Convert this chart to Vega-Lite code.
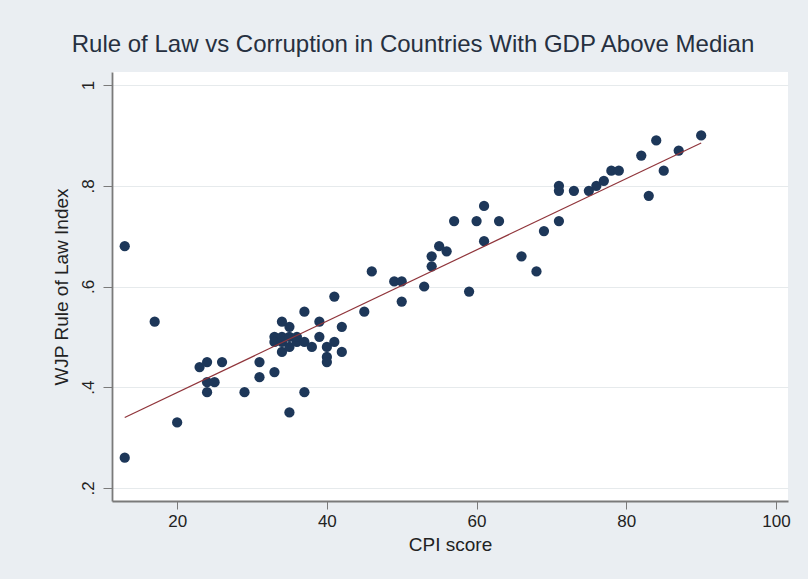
{
  "$schema": "https://vega.github.io/schema/vega-lite/v6.json",
  "autosize": {"type": "none"},
  "padding": {"left": 112, "top": 72, "right": 20, "bottom": 78},
  "width": 676,
  "height": 429,
  "background": "#eaeef2",
  "config": {
    "font": "Liberation Sans",
    "view": {"fill": "white", "stroke": null}
  },
  "title": {
    "text": "Rule of Law vs Corruption in Countries With GDP Above Median",
    "fontSize": 24,
    "fontWeight": "normal",
    "color": "#263040",
    "anchor": "middle",
    "dx": -37,
    "offset": 15
  },
  "data": {
    "values": [
      {"cpi": 13, "rol": 0.68}, {"cpi": 13, "rol": 0.26}, {"cpi": 17, "rol": 0.53}, {"cpi": 20, "rol": 0.33},
      {"cpi": 23, "rol": 0.44}, {"cpi": 24, "rol": 0.45}, {"cpi": 26, "rol": 0.45}, {"cpi": 24, "rol": 0.41},
      {"cpi": 25, "rol": 0.41}, {"cpi": 24, "rol": 0.39}, {"cpi": 29, "rol": 0.39}, {"cpi": 31, "rol": 0.45},
      {"cpi": 31, "rol": 0.42}, {"cpi": 33, "rol": 0.43}, {"cpi": 35, "rol": 0.35}, {"cpi": 34, "rol": 0.53},
      {"cpi": 35, "rol": 0.52}, {"cpi": 33, "rol": 0.50}, {"cpi": 33, "rol": 0.49}, {"cpi": 34, "rol": 0.50},
      {"cpi": 34, "rol": 0.49}, {"cpi": 34, "rol": 0.47}, {"cpi": 35, "rol": 0.50}, {"cpi": 35, "rol": 0.48},
      {"cpi": 36, "rol": 0.49}, {"cpi": 36, "rol": 0.50}, {"cpi": 37, "rol": 0.49}, {"cpi": 38, "rol": 0.48},
      {"cpi": 37, "rol": 0.55}, {"cpi": 37, "rol": 0.39}, {"cpi": 39, "rol": 0.53}, {"cpi": 39, "rol": 0.50},
      {"cpi": 40, "rol": 0.48}, {"cpi": 40, "rol": 0.46}, {"cpi": 40, "rol": 0.45}, {"cpi": 41, "rol": 0.49},
      {"cpi": 41, "rol": 0.58}, {"cpi": 42, "rol": 0.52}, {"cpi": 42, "rol": 0.47}, {"cpi": 45, "rol": 0.55},
      {"cpi": 46, "rol": 0.63}, {"cpi": 49, "rol": 0.61}, {"cpi": 50, "rol": 0.61}, {"cpi": 50, "rol": 0.57},
      {"cpi": 53, "rol": 0.60}, {"cpi": 54, "rol": 0.66}, {"cpi": 54, "rol": 0.64}, {"cpi": 55, "rol": 0.68},
      {"cpi": 56, "rol": 0.67}, {"cpi": 57, "rol": 0.73}, {"cpi": 59, "rol": 0.59}, {"cpi": 60, "rol": 0.73},
      {"cpi": 61, "rol": 0.76}, {"cpi": 61, "rol": 0.69}, {"cpi": 63, "rol": 0.73}, {"cpi": 66, "rol": 0.66},
      {"cpi": 68, "rol": 0.63}, {"cpi": 69, "rol": 0.71}, {"cpi": 71, "rol": 0.73}, {"cpi": 71, "rol": 0.80},
      {"cpi": 71, "rol": 0.79}, {"cpi": 73, "rol": 0.79}, {"cpi": 75, "rol": 0.79}, {"cpi": 76, "rol": 0.80},
      {"cpi": 77, "rol": 0.81}, {"cpi": 78, "rol": 0.83}, {"cpi": 79, "rol": 0.83}, {"cpi": 82, "rol": 0.86},
      {"cpi": 83, "rol": 0.78}, {"cpi": 84, "rol": 0.89}, {"cpi": 85, "rol": 0.83}, {"cpi": 87, "rol": 0.87},
      {"cpi": 90, "rol": 0.90}
    ]
  },
  "encoding": {
    "x": {
      "field": "cpi", "type": "quantitative",
      "scale": {"domain": [11.3, 101.6], "nice": false, "zero": false},
      "axis": {
        "title": "CPI score", "values": [20, 40, 60, 80, 100],
        "grid": false, "domainColor": "#7a7a7a", "domainWidth": 1.8,
        "tickColor": "#7a7a7a", "tickSize": 8, "tickWidth": 1,
        "labelFontSize": 17, "labelColor": "#222222", "labelPadding": 4,
        "titleFontSize": 19, "titleFontWeight": "normal", "titleColor": "#222222", "titlePadding": 6
      }
    },
    "y": {
      "field": "rol", "type": "quantitative",
      "scale": {"domain": [0.174, 1.026], "nice": false, "zero": false},
      "axis": {
        "title": "WJP Rule of Law Index", "values": [0.2, 0.4, 0.6, 0.8, 1],
        "labelExpr": "datum.value == 1 ? '1' : replace(format(datum.value, '.1f'), '0.', '.')",
        "labelAngle": -90, "labelAlign": "center", "labelBaseline": "bottom",
        "grid": true, "gridColor": "#e6eaec", "gridWidth": 1,
        "domainColor": "#7a7a7a", "domainWidth": 1.8,
        "tickColor": "#7a7a7a", "tickSize": 9, "tickWidth": 1,
        "labelFontSize": 17, "labelColor": "#222222", "labelPadding": 6,
        "titleFontSize": 19, "titleFontWeight": "normal", "titleColor": "#222222", "titlePadding": 8
      }
    }
  },
  "layer": [
    {
      "mark": {"type": "circle", "size": 105, "color": "#1d3759", "opacity": 1}
    },
    {
      "transform": [{"regression": "rol", "on": "cpi"}],
      "mark": {"type": "line", "color": "#90353b", "strokeWidth": 1.2}
    }
  ]
}
